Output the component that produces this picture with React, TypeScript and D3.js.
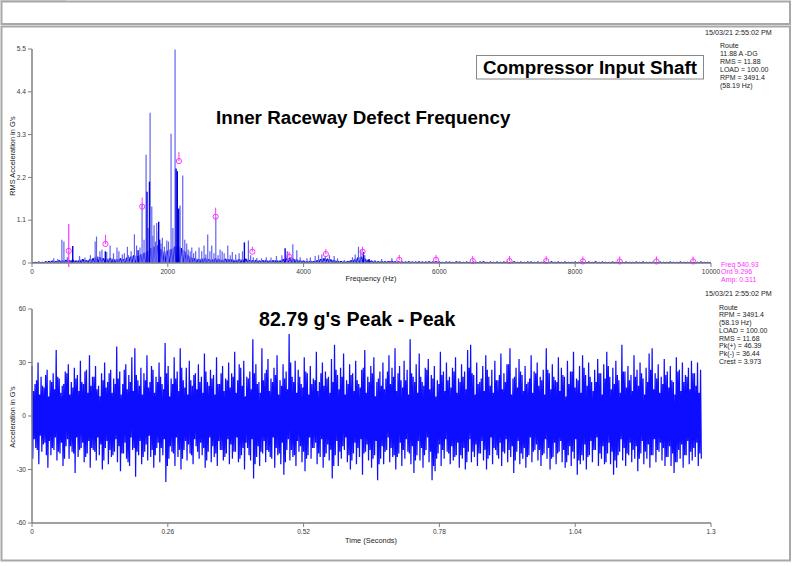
import React from "react";
import * as d3 from "d3";

const W = 796;
const H = 566;

// ---------------- Spectrum (top) ----------------
const freqTicks = [0, 2000, 4000, 6000, 8000, 10000];
const ampTicks = [0, 1.1, 2.2, 3.3, 4.4, 5.5];
const ampTickLabels = ["0", "1.1", "2.2", "3.3", "4.4", "5.5"];
const floorStepHz = 50;
const floorAmp = [
  0.02, 0.02, 0.03, 0.02, 0.04, 0.05, 0.06, 0.05, 0.07, 0.06,
  0.08, 0.07, 0.09, 0.06, 0.08, 0.1, 0.07, 0.09, 0.12, 0.18,
  0.15, 0.12, 0.1, 0.13, 0.11, 0.09, 0.12, 0.1, 0.14, 0.16,
  0.2, 0.18, 0.22, 0.26, 0.3, 0.38, 0.42, 0.45, 0.35, 0.28,
  0.32, 0.36, 0.42, 0.45, 0.38, 0.3, 0.2, 0.14, 0.12, 0.1,
  0.11, 0.13, 0.1, 0.09, 0.12, 0.1, 0.08, 0.11, 0.09, 0.1,
  0.08, 0.1, 0.09, 0.11, 0.08, 0.07, 0.08, 0.06, 0.07, 0.08,
  0.06, 0.07, 0.08, 0.06, 0.1, 0.12, 0.14, 0.11, 0.09, 0.07,
  0.06, 0.05, 0.06, 0.05, 0.07, 0.1, 0.12, 0.11, 0.09, 0.08,
  0.06, 0.05, 0.04, 0.05, 0.07, 0.09, 0.14, 0.16, 0.12, 0.08,
  0.06, 0.05, 0.04, 0.05, 0.04, 0.05, 0.06, 0.04, 0.04, 0.03,
  0.03, 0.04, 0.03, 0.03, 0.04, 0.03, 0.03, 0.04, 0.03, 0.04,
  0.03, 0.02, 0.03, 0.03, 0.02, 0.04, 0.03, 0.02, 0.03, 0.02,
  0.03, 0.02, 0.03, 0.04, 0.02, 0.03, 0.02, 0.03, 0.02, 0.03,
  0.03, 0.02, 0.04, 0.02, 0.03, 0.02, 0.03, 0.03, 0.02, 0.03,
  0.02, 0.03, 0.02, 0.04, 0.02, 0.03, 0.02, 0.03, 0.02, 0.02,
  0.03, 0.02, 0.03, 0.02, 0.03, 0.02, 0.04, 0.02, 0.03, 0.02,
  0.02, 0.03, 0.02, 0.03, 0.02, 0.03, 0.02, 0.02, 0.03, 0.02,
  0.03, 0.02, 0.02, 0.03, 0.02, 0.03, 0.02, 0.02, 0.03, 0.02,
  0.02, 0.03, 0.02, 0.02, 0.03, 0.02, 0.02, 0.03, 0.02, 0.02,
  0.02,
];
const lightSpikeFreq = [
  320, 380, 440, 470, 520, 700, 780, 860, 930, 950, 1000, 1030, 1100, 1150, 1200,
  1252, 1280, 1330, 1360, 1405, 1420, 1460, 1508, 1540, 1590, 1621, 1650, 1680,
  1710, 1739, 1764, 1780, 1798, 1820, 1837, 1860, 1900, 1920, 1950, 1985, 2010,
  2048, 2075, 2107, 2150, 2181, 2220, 2250, 2278, 2300, 2330, 2353, 2380, 2410,
  2460, 2500, 2534, 2560, 2588, 2620, 2647, 2680, 2707, 2740, 2770, 2800, 2830,
  2883, 2920, 2950, 3000, 3050, 3100, 3187, 3220, 3260, 3311, 3380, 3450, 3520,
  3600, 3680, 3760, 3841, 3900, 3950, 4050, 4100, 4170, 4220, 4268, 4320, 4380,
  4450, 4500, 4600, 4720, 4760, 4808, 4843, 4900, 5050, 5150, 5300, 5450, 5700,
];
const lightSpikeAmp = [
  0.12, 0.1, 0.6, 0.55, 0.15, 0.18, 0.14, 0.2, 0.55, 0.68, 0.3, 0.35, 0.28, 0.45, 0.25,
  0.4, 0.3, 0.22, 0.25, 0.42, 0.2, 0.3, 0.74, 0.45, 0.4, 1.5, 0.6, 2.78,
  0.9, 3.86, 1.45, 0.7, 0.97, 0.55, 1.03, 0.8, 0.5, 0.65, 0.42, 0.58, 0.55,
  3.32, 0.9, 5.49, 0.7, 1.48, 2.25, 0.6, 0.5, 0.35, 0.3, 0.4, 0.25, 0.3,
  0.4, 0.3, 0.45, 0.22, 0.73, 0.3, 0.45, 0.25, 1.19, 0.2, 0.35, 0.3, 0.25,
  0.45, 0.2, 0.28, 0.22, 0.25, 0.3, 0.58, 0.2, 0.15, 0.13, 0.12, 0.15, 0.14,
  0.18, 0.2, 0.3, 0.48, 0.33, 0.15, 0.12, 0.14, 0.18, 0.2, 0.22, 0.18, 0.2,
  0.18, 0.12, 0.08, 0.15, 0.22, 0.42, 0.33, 0.2, 0.08, 0.1, 0.12, 0.06, 0.05,
];
const darkSpikeFreq = [600, 1080, 1562, 1694, 1730, 1866, 1880, 2122, 2140, 2160, 3128, 3728, 4880, 4965];
const darkSpikeAmp = [0.44, 0.3, 0.33, 1.83, 2.09, 1.06, 0.6, 2.43, 2.36, 1.4, 0.53, 0.38, 0.28, 0.1];
const cursorFreq = 540.93;
const harmonicOrder = [1, 2, 3, 4, 5, 6, 7, 8, 9, 10, 11, 12, 13, 14, 15, 16, 17, 18];
const harmonicAmp = [0.311, 0.49, 1.45, 2.62, 1.19, 0.29, 0.16, 0.23, 0.29, 0.08, 0.08, 0.05, 0.05, 0.05, 0.04, 0.04, 0.04, 0.04];
const topInfo = ["Route", "11.88 A -DG", "RMS = 11.88", "LOAD = 100.00", "RPM = 3491.4", "(58.19 Hz)"];
const cursorInfo = ["Freq 540.93", "Ord 9.296", "Amp: 0.311"];

// ---------------- Waveform (bottom) ----------------
const timeTicks = [0, 0.26, 0.52, 0.78, 1.04, 1.3];
const accTicks = [-60, -30, 0, 30, 60];
const waveDuration = 1.28;
const wavePeakUp = [
  28, 18, 30, 22, 16, 26, 20, 24, 37, 21, 17, 25, 29, 19, 27, 23, 31, 18, 26, 34,
  22, 28, 17, 24, 30, 19, 26, 21, 39, 25, 18, 29, 23, 33, 38, 20, 27, 24, 34, 19,
  26, 22, 30, 18, 41, 28, 21, 33, 25, 38, 20, 27, 31, 17, 24, 29, 22, 35, 19, 26,
  23, 33, 18, 28, 21, 30, 24, 36, 20, 27, 31, 22, 25, 43, 29, 19, 38, 24, 32, 21,
  27, 34, 20, 29, 25, 46, 22, 31, 26, 18, 33, 24, 28, 21, 36, 19, 30, 25, 22, 32,
  40, 23, 27, 35, 20, 29, 24, 31, 18, 26, 37, 22, 28, 33, 19, 25, 30, 21, 34, 27,
  38, 24, 20, 31, 26, 43, 22, 29, 35, 19, 27, 32, 23, 28, 20, 36, 25, 30, 22, 27,
  33, 21, 29, 25, 37, 40, 23, 30, 19, 28, 34, 22, 26, 31, 20, 35, 24, 29, 38, 21,
  27, 32, 23, 28, 19, 34, 25, 30, 22, 26, 38, 24, 29, 20, 33, 27, 22, 31, 25, 36,
  21, 28, 34, 23, 30, 19, 26, 32, 24, 29, 36, 22, 27, 31, 20, 40, 25, 28, 23, 34,
  26, 30, 21, 27, 35, 38, 24, 29, 22, 32, 25, 28, 19, 33, 26, 30, 23, 27, 31, 24,
  30, 26,
];
const wavePeakDown = [
  -24, -18, -27, -20, -15, -29, -22, -19, -25, -21, -28, -17, -24, -20, -32, -23, -18, -26, -21, -29,
  -19, -25, -22, -30, -18, -27, -23, -20, -26, -31, -21, -24, -28, -19, -34, -22, -27, -20, -25, -23,
  -29, -18, -26, -22, -37, -24, -20, -28, -23, -30, -19, -25, -21, -27, -17, -24, -22, -29, -20, -26,
  -23, -28, -19, -25, -21, -27, -24, -20, -26, -22, -30, -18, -25, -35, -23, -28, -21, -26, -20, -24,
  -29, -22, -27, -33, -19, -25, -23, -28, -20, -26, -31, -22, -24, -18, -27, -23, -29, -21, -25, -35,
  -22, -28, -24, -19, -26, -30, -21, -27, -23, -33, -20, -25, -29, -22, -36, -24, -27, -19, -26, -23,
  -30, -21, -28, -24, -20, -27, -32, -22, -25, -29, -19, -26, -36, -31, -21, -28, -24, -20, -27, -25,
  -22, -29, -24, -30, -20, -26, -23, -28, -21, -25, -30, -22, -27, -19, -24, -28, -21, -26, -23, -32,
  -20, -27, -24, -29, -22, -26, -19, -25, -28, -21, -24, -30, -23, -27, -20, -26, -29, -22, -28, -24,
  -33, -27, -25, -30, -22, -26, -19, -28, -24, -27, -21, -27, -33, -29, -20, -25, -28, -22, -26, -24,
  -31, -21, -27, -24, -29, -22, -26, -20, -25, -28, -23, -28, -32, -26, -24, -29, -22, -27, -25, -23,
  -28, -24,
];
const waveMidUp = [
  14, 20, 12, 17, 23, 11, 19, 15, 22, 13, 18, 24, 12, 16, 21, 14, 19, 25, 13, 17,
  22, 15, 11, 20, 16, 24, 13, 18, 21, 12, 26, 15, 19, 14, 23, 17, 12, 20, 16, 28,
  13, 19, 22, 15, 24, 11, 18, 21, 14, 27, 16, 12, 20, 23, 15, 19, 13, 25, 17, 21,
  12, 18, 24, 14, 20, 16, 22, 13, 29, 17, 11, 21, 15, 24, 18, 13, 20, 26, 14, 19,
  23, 12, 17, 21, 15, 30, 19, 13, 22, 16, 25, 12, 18, 20, 14, 24, 17, 21, 13, 19,
  26, 15, 22, 12, 18, 23, 14, 20, 16, 27, 13, 19, 24, 11, 21, 17, 15, 25, 18, 22,
  14, 28, 16, 20, 12, 24, 19, 13, 22, 17, 26, 15, 21, 11, 18, 23, 14, 20, 16, 25,
  13, 19, 22, 15, 27, 24, 12, 18, 21, 14, 26, 17, 13, 20, 23, 15, 19, 29, 12, 22,
  16, 25, 14, 18, 21, 13, 24, 17, 20, 12, 26, 15, 22, 19, 14, 23, 11, 18, 25, 16,
  20, 13, 27, 17, 22, 14, 19, 24, 12, 21, 28, 15, 18, 23, 13, 25, 16, 20, 14, 22,
  17, 24, 12, 19, 26, 15, 21, 13, 18, 23, 16, 20, 12, 25, 14, 19, 22, 15, 24, 17,
  13, 20,
];
const waveMidDown = [
  -13, -19, -11, -16, -22, -14, -18, -12, -20, -15, -24, -13, -17, -21, -12, -19, -15, -23, -14, -18,
  -20, -12, -16, -25, -14, -19, -22, -13, -17, -21, -15, -26, -12, -18, -20, -14, -23, -16, -11, -19,
  -22, -15, -18, -13, -28, -17, -21, -12, -19, -24, -14, -16, -22, -13, -20, -15, -18, -25, -12, -17,
  -21, -14, -19, -23, -13, -16, -20, -12, -24, -18, -15, -22, -13, -27, -17, -20, -14, -19, -23, -12,
  -18, -21, -15, -26, -13, -19, -22, -14, -17, -20, -24, -12, -18, -15, -21, -13, -23, -16, -19, -28,
  -14, -20, -17, -12, -22, -25, -15, -18, -13, -21, -16, -19, -24, -14, -27, -17, -20, -12, -18, -22,
  -23, -15, -19, -13, -21, -17, -25, -14, -18, -22, -12, -20, -28, -24, -16, -19, -13, -21, -17, -23,
  -15, -22, -18, -26, -13, -20, -16, -21, -14, -19, -24, -12, -18, -22, -15, -20, -13, -19, -17, -25,
  -14, -21, -18, -23, -12, -20, -16, -19, -22, -13, -18, -24, -15, -21, -14, -19, -26, -17, -20, -13,
  -25, -22, -16, -23, -14, -19, -12, -21, -17, -26, -15, -20, -25, -22, -13, -18, -21, -15, -19, -17,
  -24, -14, -20, -16, -22, -13, -19, -15, -18, -23, -17, -21, -26, -19, -16, -22, -14, -20, -18, -15,
  -21, -17,
];
const bottomInfo = ["Route", "RPM = 3491.4", "(58.19 Hz)", "LOAD = 100.00", "RMS = 11.68", "Pk(+) = 46.39", "Pk(-) = 36.44", "Crest = 3.973"];
const stamp = "15/03/21 2:55:02 PM";

const FONT = "Arial, 'Liberation Sans', sans-serif";
const AXIS = "#808080";
const TICKTXT = "#3a3a3a";

export default function App() {
  const xF = d3.scaleLinear().domain([0, 10000]).range([32, 711]);
  const yA = d3.scaleLinear().domain([0, 5.5]).range([263, 49]);
  const xT = d3.scaleLinear().domain([0, 1.3]).range([32, 711]);
  const yW = d3.scaleLinear().domain([-60, 60]).range([523, 309]);

  const floorPts: [number, number][] = [];
  floorAmp.forEach((a, i) => {
    const f = i * floorStepHz;
    floorPts.push([f, a]);
    if (i < floorAmp.length - 1) floorPts.push([f + floorStepHz / 2, 0.005]);
  });
  const floorPath = d3
    .line<[number, number]>()
    .x((d) => xF(d[0]))
    .y((d) => yA(d[1]))(floorPts) as string;
  const floorFill = d3
    .area<number>()
    .x((_, i) => xF(i * floorStepHz))
    .y0(yA(0))
    .y1((d) => yA(d))(floorAmp) as string;

  const n = Math.min(wavePeakUp.length, wavePeakDown.length, waveMidUp.length, waveMidDown.length);
  const dt = waveDuration / (n - 1);
  const zig: [number, number][] = [];
  for (let i = 0; i < n; i++) {
    zig.push([i * dt, wavePeakUp[i]]);
    zig.push([i * dt + dt / 4, wavePeakDown[i]]);
    if (i < n - 1) {
      zig.push([i * dt + dt / 2, waveMidUp[i]]);
      zig.push([i * dt + (3 * dt) / 4, waveMidDown[i]]);
    }
  }
  const zigPath = d3
    .line<[number, number]>()
    .x((d) => xT(d[0]))
    .y((d) => yW(d[1]))(zig) as string;

  const smallTxt = { fontFamily: FONT, fontSize: 6.6, fill: TICKTXT } as const;
  const infoTxt = { fontFamily: FONT, fontSize: 7, fill: "#222" } as const;

  return (
    <svg
      width={W}
      height={H}
      viewBox={`0 0 ${W} ${H}`}
      style={{ position: "fixed", left: 0, top: 0, background: "#fff" }}
    >
      <rect x={0} y={0} width={W} height={H} fill="#ffffff" />
      <line x1={0} y1={0.5} x2={66} y2={0.5} stroke="#d8d8d8" strokeWidth={1} />
      <rect x={1.5} y={1.5} width={788.5} height={22.5} fill="#fff" stroke="#a8a8a8" strokeWidth={2} />
      <rect x={1.5} y={26.5} width={788.5} height={534} fill="#fff" stroke="#a8a8a8" strokeWidth={2} />

      {/* ===== Spectrum ===== */}
      <path d={floorFill} fill="#0000e0" fillOpacity={0.45} />
      <path d={floorPath} fill="none" stroke="#0000e6" strokeWidth={1} />
      {lightSpikeFreq.map((f, i) => (
        <line key={"l" + i} x1={xF(f)} x2={xF(f)} y1={yA(0)} y2={yA(lightSpikeAmp[i])} stroke="#6262f2" strokeWidth={1.2} />
      ))}
      {darkSpikeFreq.map((f, i) => (
        <line key={"d" + i} x1={xF(f)} x2={xF(f)} y1={yA(0)} y2={yA(darkSpikeAmp[i])} stroke="#0000dd" strokeWidth={1.4} />
      ))}
      <line x1={xF(cursorFreq)} x2={xF(cursorFreq)} y1={yA(1.0)} y2={yA(0) + 4} stroke="#ff33ff" strokeWidth={1.2} />
      {harmonicOrder.map((h, i) => {
        const cx = xF(h * cursorFreq);
        const cy = yA(harmonicAmp[i]);
        return (
          <g key={"h" + h}>
            {h > 1 && <line x1={cx} x2={cx} y1={cy - (h <= 5 ? 9 : 5)} y2={cy} stroke="#ff33ff" strokeWidth={1} />}
            <circle cx={cx} cy={cy} r={2.6} fill="none" stroke="#ff33ff" strokeWidth={1} />
          </g>
        );
      })}
      <line x1={32} x2={32} y1={yA(5.5)} y2={yA(0)} stroke={AXIS} strokeWidth={1.5} />
      <line x1={32} x2={xF(10000)} y1={yA(0)} y2={yA(0)} stroke={AXIS} strokeWidth={1.5} />
      {ampTicks.map((t, i) => (
        <g key={"at" + i}>
          <line x1={28} x2={32} y1={yA(t)} y2={yA(t)} stroke={AXIS} strokeWidth={1} />
          <text x={26} y={yA(t) + 2.2} textAnchor="end" {...smallTxt}>{ampTickLabels[i]}</text>
        </g>
      ))}
      {freqTicks.map((t) => (
        <g key={"ft" + t}>
          <line x1={xF(t)} x2={xF(t)} y1={yA(0)} y2={yA(0) + 4} stroke={AXIS} strokeWidth={1} />
          <text x={xF(t)} y={yA(0) + 10.5} textAnchor="middle" {...smallTxt}>{t}</text>
        </g>
      ))}
      <text x={371} y={281} textAnchor="middle" fontFamily={FONT} fontSize={7.4} fill="#222">Frequency (Hz)</text>
      <text transform="translate(14.5,156) rotate(-90)" textAnchor="middle" fontFamily={FONT} fontSize={7.4} fill="#222">RMS Acceleration in G's</text>

      <text x={705} y={35} {...infoTxt} fontSize={7.2}>{stamp}</text>
      {topInfo.map((s, i) => (
        <text key={"ti" + i} x={720} y={47.5 + i * 8.1} {...infoTxt}>{s}</text>
      ))}
      <rect x={476.5} y={55.5} width={227} height={23.5} fill="#fff" stroke="#888" strokeWidth={1} />
      <text x={590} y={73.8} textAnchor="middle" fontFamily={FONT} fontWeight="bold" fontSize={18.8} fill="#000">Compressor Input Shaft</text>
      <text x={216} y={123.8} fontFamily={FONT} fontWeight="bold" fontSize={18.8} fill="#000">Inner Raceway Defect Frequency</text>
      {cursorInfo.map((s, i) => (
        <text key={"ci" + i} x={721} y={266.5 + i * 7.8} fontFamily={FONT} fontSize={7} fill="#ff33ff">{s}</text>
      ))}

      {/* ===== Waveform ===== */}
      <path d={zigPath} fill="none" stroke="#0000ff" strokeOpacity={0.95} strokeWidth={1.25} />
      <line x1={32} x2={32} y1={yW(60)} y2={yW(-60)} stroke={AXIS} strokeWidth={1.5} />
      <line x1={32} x2={xT(1.3)} y1={yW(-60)} y2={yW(-60)} stroke={AXIS} strokeWidth={1.5} />
      {accTicks.map((t) => (
        <g key={"wt" + t}>
          <line x1={28} x2={32} y1={yW(t)} y2={yW(t)} stroke={AXIS} strokeWidth={1} />
          <text x={26} y={yW(t) + 2.2} textAnchor="end" {...smallTxt}>{t}</text>
        </g>
      ))}
      {timeTicks.map((t) => (
        <g key={"tt" + t}>
          <line x1={xT(t)} x2={xT(t)} y1={yW(-60)} y2={yW(-60) + 4} stroke={AXIS} strokeWidth={1} />
          <text x={xT(t)} y={yW(-60) + 10.5} textAnchor="middle" {...smallTxt}>{t}</text>
        </g>
      ))}
      <text x={371} y={543} textAnchor="middle" fontFamily={FONT} fontSize={7.4} fill="#222">Time (Seconds)</text>
      <text transform="translate(14.5,417) rotate(-90)" textAnchor="middle" fontFamily={FONT} fontSize={7.4} fill="#222">Acceleration in G's</text>

      <text x={705} y={296} {...infoTxt} fontSize={7.2}>{stamp}</text>
      {bottomInfo.map((s, i) => (
        <text key={"bi" + i} x={719} y={309.5 + i * 7.75} {...infoTxt}>{s}</text>
      ))}
      <text x={259} y={325.5} fontFamily={FONT} fontWeight="bold" fontSize={19.6} fill="#000">82.79 g's Peak - Peak</text>
    </svg>
  );
}
